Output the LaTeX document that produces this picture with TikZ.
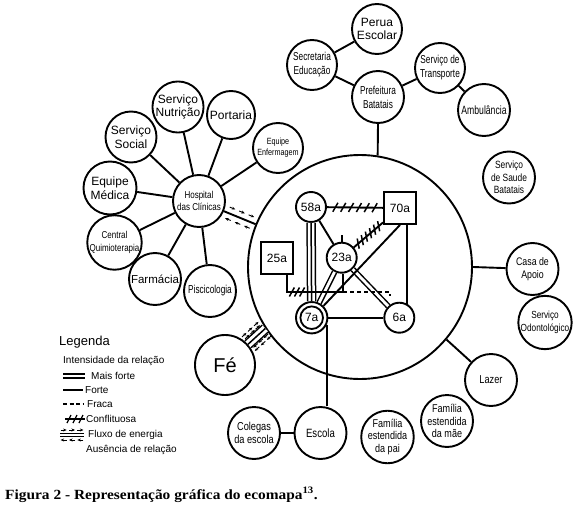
\documentclass[tikz,border=0pt]{standalone}
\usepackage{fontspec}
\setmainfont{Liberation Sans}
\newfontfamily\narrowfont[FakeStretch=0.8]{Liberation Sans}
\newfontfamily\condfont[FakeStretch=0.72]{Liberation Sans}
\newfontfamily\capfont[FakeStretch=1.1]{Liberation Serif}
\usetikzlibrary{arrows.meta, decorations.markings}
\newcommand{\fsz}[2]{\fontsize{#1}{#2}\selectfont}

\begin{document}
\begin{tikzpicture}[x=1pt, y=-1pt]
  \tikzstyle{ent} = [circle, draw, line width=1.9pt, minimum size=50pt, inner sep=0pt, align=center, font=\fsz{12}{13.8}]
  \tikzstyle{nent} = [ent, font=\narrowfont\fsz{11.5}{13}]
  \tikzstyle{cent} = [ent, font=\condfont\fsz{11.5}{14}]
  \tikzstyle{fam} = [circle, draw, line width=1.9pt, minimum size=30pt, inner sep=0pt, font=\fsz{12}{14}]
  \tikzstyle{famsq} = [rectangle, draw, line width=1.9pt, minimum size=32pt, inner sep=0pt, font=\fsz{12}{14}]
  \tikzstyle{famdbl} = [fam, minimum size=31.4pt, path picture={\draw[line width=1.8pt] (path picture bounding box.center) circle (11.3pt);}]
  \tikzstyle{link} = [line width=1.9pt]
  \tikzstyle{weak} = [line width=1.1pt, dash pattern=on 4pt off 3pt]
  \tikzstyle{dbl} = [line width=1.5pt, double, double distance=2.8pt]
  \tikzstyle{conflict} = [link, postaction={decorate}, decoration={markings, mark=between positions 0.15 and 0.87 step 0.14 with {\draw[line width=1.5pt] (-2.5pt,-4.5pt) -- (2.5pt,4.5pt);}}]
  \tikzstyle{conflictshort} = [link, postaction={decorate}, decoration={markings, mark=between positions 0.3 and 0.45 step 0.07 with {\draw[line width=1.5pt] (-2.5pt,-4.5pt) -- (2.5pt,4.5pt);}}]
  \tikzstyle{flow} = [postaction={decorate}, decoration={markings, mark=between positions 0.2 and 0.85 step 0.3 with {\draw[-{Stealth[length=3.5pt,width=3pt]}, line width=0.9pt] (-3pt,6pt) -- (3pt,6pt); \draw[-{Stealth[length=3.5pt,width=3pt]}, line width=0.9pt] (3pt,-6pt) -- (-3pt,-6pt);}}]

  \useasboundingbox (0,0) rectangle (576,506);

  % outer system
  \node [ent] at (377,29) (perua) {Perua\\Escolar};
  \node [cent] at (312,65) (secr) {Secretaria\\Educação};
  \node [cent, minimum size=52pt] at (378,97) (pref) {Prefeitura\\Batatais};
  \node [cent] at (440,68) (transp) {Serviço de\\Transporte};
  \node [cent, minimum size=52pt, font=\condfont\fsz{12}{14}] at (484,110) (amb) {Ambulância};
  \node [nent, minimum size=52pt, font=\narrowfont\fsz{10.5}{12.5}] at (509,177.5) (saude) {Serviço\\de Saude\\Batatais};
  \node [nent, minimum size=52pt, font=\narrowfont\fsz{11}{13.5}] at (532.5,269) (casa) {Casa de\\Apoio};
  \node [nent, font=\narrowfont\fsz{10.3}{13}] at (545,322.5) (odonto) {Serviço\\Odontológico};
  \node [nent, minimum size=52pt] at (491,380) (lazer) {Lazer};
  \node [nent, minimum size=52pt, font=\narrowfont\fsz{11.3}{12.3}] at (447,421) (mae) {Família\\estendida\\da mãe};
  \node [nent, minimum size=51pt, font=\narrowfont\fsz{11.3}{12.3}] at (387.5,437) (pai) {Família\\estendida\\da pai};
  \node [nent, minimum size=52pt, font=\narrowfont\fsz{12}{14}] at (320.5,433) (escola) {Escola};
  \node [nent, minimum size=52pt] at (254,433) (colegas) {Colegas\\da escola};
  \node [ent, minimum size=60pt, font=\fsz{20}{22}] at (225,365) (fe) {Fé};
  \node [nent, minimum size=52pt, font=\narrowfont\fsz{10}{12.5}] at (199,201) (hosp) {Hospital\\das Clínicas};
  \node [ent] at (178,107) (nutri) {Serviço\\Nutrição};
  \node [ent, minimum size=48pt] at (231,115) (portaria) {Portaria};
  \node [ent, minimum size=51pt] at (131,137) (social) {Serviço\\Social};
  \node [ent, minimum size=53pt] at (110,188) (medica) {Equipe\\Médica};
  \node [nent, minimum size=54pt, font=\narrowfont\fsz{10}{13}] at (114.5,242.5) (quimio) {Central\\Quimioterapia};
  \node [ent, minimum size=52pt, font=\fsz{11.5}{13}] at (155,279) (farm) {Farmácia};
  \node [cent, minimum size=52pt] at (210,291) (psico) {Piscicologia};
  \node [nent, font=\narrowfont\fsz{9}{11}] at (278,148) (enferm) {Equipe\\Enfermagem};

  % family
  \node [circle, draw, line width=1.9pt, minimum size=224pt] at (360,267) (family) {};
  \node [fam] at (311,207) (n58) {58a};
  \node [famsq] at (400,208) (n70) {70a};
  \node [famsq] at (277,258) (n25) {25a};
  \node [fam] at (341.7,257.7) (n23) {23a};
  \node [famdbl] at (311.7,317.7) (n7) {7a};
  \node [fam] at (399.3,317.7) (n6) {6a};
  \coordinate (bend) at (343,292);
  \coordinate (dashend) at (390,292);

  \draw[conflict] (n58) -- (n70);
  \draw[conflict] (n23) -- (n70);
  \draw[link] (n58) -- (n23);
  \draw[dbl, double distance=6.5pt] (n58) -- (n7);
  \draw[line width=1.5pt] (n58) -- (n7);
  \draw[dbl] (n23) -- (n7);
  \draw[dbl] (n23) -- (n6);
  \draw[link] (n70.south) -- (n7.45);
  \draw[link] (n70.south -| n6.60) -- (n6.60);
  \draw[link] (n7) -- (n6);
  \draw[link] (n23.north) -- ++(0,-7);
  \draw[conflictshort] ([xshift=10pt]n25.south) |- (bend);
  \draw[link] (bend) -- (bend |- n23.south);
  \draw[weak] (bend) -- (dashend) -- ++(0,4);

  % connections
  \foreach \n in {nutri, portaria, social, medica, quimio, farm, psico, enferm}
    \draw[link] (hosp) -- (\n);
  \draw[link] (hosp) -- (family);
  \path[flow] (hosp) -- (family);
  \draw[dbl, double distance=7.5pt] (fe.42) -- (family.213);
  \draw[line width=1.5pt] (fe.42) -- (family.213);
  \path[flow, decoration={markings, mark=between positions 0.15 and 0.9 step 0.35 with {\draw[-{Stealth[length=3.5pt,width=3pt]}, line width=0.9pt] (-3pt,9.5pt) -- (3pt,9.5pt); \draw[-{Stealth[length=3.5pt,width=3pt]}, line width=0.9pt] (3pt,-9.5pt) -- (-3pt,-9.5pt);}}] (fe.42) -- (family.213);
  \draw[link] (pref) -- (secr);
  \draw[link] (secr) -- (perua);
  \draw[link] (pref) -- (transp);
  \draw[link] (transp) -- (amb);
  \draw[link] (pref.south) -- (family.81);
  \draw[link] (family.0) -- (casa);
  \draw[link] (casa) -- (odonto);
  \draw[link] (family.-40) -- (lazer);
  \draw[link] (n7.-25) -- (n7.-25 |- escola.north);
  \draw[link] (escola) -- (colegas);

  % legend
  \node [anchor=west, inner sep=0pt, font=\fsz{13}{15}] at (59,342) (leg) {Legenda};
  \node [anchor=west, inner sep=0pt, font=\fsz{10}{12}] at (63,361) (legint) {Intensidade da relação};
  \node [anchor=west, inner sep=0pt, font=\fsz{10}{12}] at (91,376) (legmf) {Mais forte};
  \node [anchor=west, inner sep=0pt, font=\fsz{10}{12}] at (85,390) (legf) {Forte};
  \node [anchor=west, inner sep=0pt, font=\fsz{10}{12}] at (87,404) (legfr) {Fraca};
  \node [anchor=west, inner sep=0pt, font=\fsz{10}{12}] at (86,419) (legc) {Conflituosa};
  \node [anchor=west, inner sep=0pt, font=\fsz{10}{12}] at (88,435) (legfl) {Fluxo de energia};
  \node [anchor=west, inner sep=0pt, font=\fsz{10}{12}] at (86,450) (lega) {Ausência de relação};
  \coordinate (l1a) at (63,376); \coordinate (l1b) at (85,376);
  \coordinate (l2a) at (63,390); \coordinate (l2b) at (83,390);
  \coordinate (l3a) at (63,404); \coordinate (l3b) at (84,404);
  \coordinate (l4a) at (65,419); \coordinate (l4b) at (85,419);
  \coordinate (l5a) at (60,435); \coordinate (l5b) at (84,435);
  \draw[line width=1.7pt, double, double distance=1.8pt] (l1a) -- (l1b);
  \draw[link] (l2a) -- (l2b);
  \draw[weak, dash pattern=on 4pt off 2.5pt] (l3a) -- (l3b);
  \draw[link, line width=1.3pt, postaction={decorate}, decoration={markings, mark=between positions 0.2 and 0.8 step 0.3 with {\draw[line width=1.3pt] (-2pt,-4pt) -- (2pt,4pt);}}] (l4a) -- (l4b);
  \draw[line width=1.1pt, double, double distance=1.5pt] (l5a) -- (l5b);
  \path[decorate, decoration={markings, mark=between positions 0.15 and 0.9 step 0.35 with {\draw[-{Stealth[length=3.5pt,width=3pt]}, line width=0.9pt] (-3pt,5pt) -- (3pt,5pt); \draw[-{Stealth[length=3.5pt,width=3pt]}, line width=0.9pt] (3pt,-5pt) -- (-3pt,-5pt);}}] (l5a) -- (l5b);

  % caption
  \node [anchor=base west, inner sep=0pt, font=\capfont\bfseries\fsz{14}{16}] at (5,499) (caption) {Figura 2 - Representação gráfica do ecomapa\textsuperscript{13}.};
\end{tikzpicture}
\end{document}
